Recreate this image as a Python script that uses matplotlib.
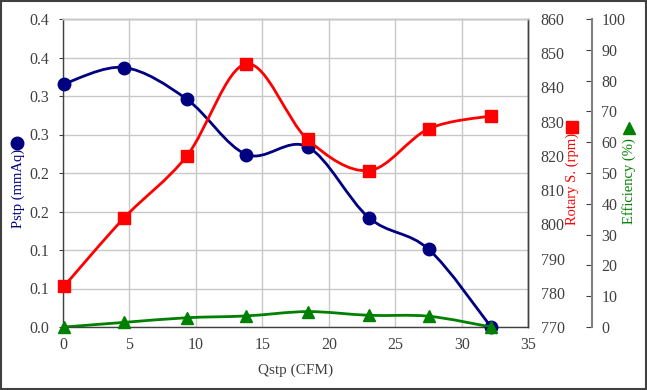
import numpy as np
import matplotlib.pyplot as plt
from matplotlib.path import Path
from matplotlib.patches import PathPatch
from matplotlib.lines import Line2D

plt.rcParams['font.family'] = ['Liberation Serif', 'DejaVu Sans']
plt.rcParams['font.size'] = 10.5

# data
qstp = [0.1, 4.6, 9.3, 13.8, 18.4, 23.0, 27.5, 32.2]
pstp = [0.316, 0.337, 0.296, 0.224, 0.234, 0.142, 0.101, 0.0]
rotary = [782.0, 801.9, 819.9, 846.9, 824.8, 815.7, 827.9, 831.7]
efficiency = [0.0, 1.5, 3.0, 3.6, 5.0, 3.8, 3.5, 0.0]

pstp_ticks = [0.0, 0.05, 0.1, 0.15, 0.2, 0.25, 0.3, 0.35, 0.4]
pstp_ticklabels = ["0.0", "0.1", "0.1", "0.2", "0.2", "0.3", "0.3", "0.4", "0.4"]
x_ticks = [0, 5, 10, 15, 20, 25, 30, 35]
rpm_ticks = list(range(770, 861, 10))
eff_ticks = list(range(0, 101, 10))

navy = "#000080"
red = "#ff0000"
green = "#008000"
dark = "#404040"
grid_c = "#c8c8c8"

W, H = 647, 390


def smooth_path(x, y):
    # Excel-like smoothed line: cubic bezier segments through every point
    p = np.column_stack([x, y]).astype(float)
    n = len(p)
    verts = [p[0]]
    codes = [Path.MOVETO]
    for i in range(n - 1):
        a = p[max(i - 1, 0)]
        b = p[i]
        c = p[i + 1]
        d = p[min(i + 2, n - 1)]
        verts += [b + (c - a) / 6, c - (d - b) / 6, c]
        codes += [Path.CURVE4] * 3
    return Path(verts, codes)


fig = plt.figure(figsize=(W / 100, H / 100), dpi=100)
fig.patch.set_facecolor("white")
fig.add_artist(plt.Rectangle((0.001, 0.002), 0.997, 0.995, transform=fig.transFigure,
                             fill=False, edgecolor=dark, lw=1.5))

ax = fig.add_axes([63 / W, 1 - 327 / H, 465.3 / W, 308 / H])
ax2 = ax.twinx()
ax3 = ax.twinx()

# left axis: Pstp
ax.add_patch(PathPatch(smooth_path(qstp, pstp), fill=False, edgecolor=navy, lw=2))
ax.plot(qstp, pstp, ls="none", marker="o", ms=9, color=navy, clip_on=False, zorder=5)
ax.set_xlim(0, 35)
ax.set_ylim(0, 0.4)
ax.set_xticks(x_ticks)
ax.set_yticks(pstp_ticks)
ax.set_yticklabels(pstp_ticklabels)
ax.grid(True, color=grid_c, lw=1)
ax.set_axisbelow(True)
ax.tick_params(axis="y", length=3, pad=7, colors=dark, labelcolor=dark, labelsize=11.5)
ax.tick_params(axis="x", length=0, pad=7, labelcolor=dark, labelsize=11.5)
ax.set_xlabel("Qstp (CFM)", color=dark, labelpad=8, fontsize=11)

# right axis: rotary speed
ax2.add_patch(PathPatch(smooth_path(qstp, rotary), fill=False, edgecolor=red, lw=2))
ax2.plot(qstp, rotary, ls="none", marker="s", ms=8.5, color=red, clip_on=False, zorder=5)
ax2.set_ylim(770, 860)
ax2.set_yticks(rpm_ticks)
ax2.tick_params(axis="y", length=0, pad=9, labelcolor=dark, labelsize=11.5)

# outer right axis: efficiency
ax3.spines["right"].set_position(("axes", (591.7 - 63) / 465.3))
ax3.add_patch(PathPatch(smooth_path(qstp, efficiency), fill=False, edgecolor=green, lw=2))
ax3.plot(qstp, efficiency, ls="none", marker="^", ms=8, color=green, clip_on=False, zorder=5)
ax3.set_ylim(0, 100)
ax3.set_yticks(eff_ticks)
ax3.tick_params(axis="y", direction="in", length=4, pad=7, colors=dark, labelcolor=dark,
                labelsize=11.5)

for a in (ax, ax2, ax3):
    for s in a.spines.values():
        s.set_color(dark)
        s.set_linewidth(1)
    a.spines["top"].set_color(grid_c)
ax3.spines["right"].set_color("#808080")
ax3.spines["right"].set_linewidth(1.5)
for a in (ax2, ax3):
    a.spines["left"].set_visible(False)
    a.spines["bottom"].set_visible(False)

# axis titles with their marker symbols
fig.text(18 / W, 1 - 188.5 / H, "Pstp (mmAq)", rotation=90, color=navy, ha="center", va="center")
fig.text(572 / W, 1 - 178.5 / H, "Rotary S. (rpm)", rotation=90, color=red, ha="center", va="center")
fig.text(629 / W, 1 - 181 / H, "Efficiency (%)", rotation=90, color=green, ha="center", va="center")
fig.add_artist(Line2D([17 / W], [1 - 143 / H], marker="o", ms=9, color=navy, transform=fig.transFigure))
fig.add_artist(Line2D([572 / W], [1 - 127 / H], marker="s", ms=9, color=red, transform=fig.transFigure))
fig.add_artist(Line2D([629 / W], [1 - 128 / H], marker="^", ms=9, color=green, transform=fig.transFigure))

fig.savefig("out.png", dpi=100)
